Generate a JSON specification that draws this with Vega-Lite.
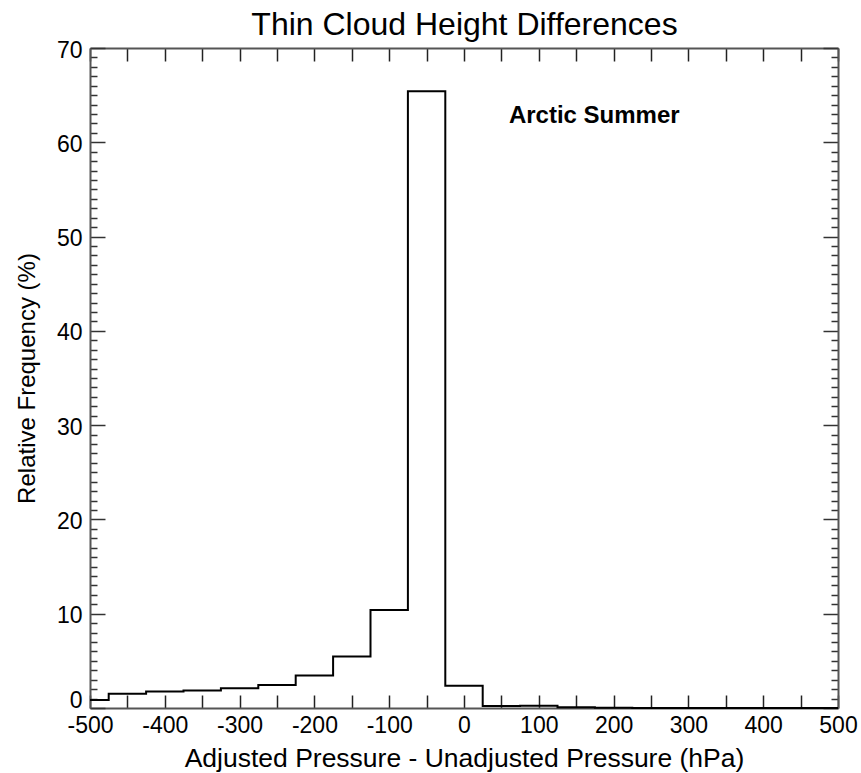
{
  "$schema": "https://vega.github.io/schema/vega-lite/v6.json",
  "width": 748,
  "height": 660,
  "autosize": "none",
  "padding": {"left": 90, "top": 48, "right": 23, "bottom": 65},
  "background": "white",
  "config": {"view": {"stroke": null}, "font": "Liberation Sans"},
  "datasets": {
    "hist": [
      {"x": -500, "y": 0.85},
      {"x": -450, "y": 1.5},
      {"x": -400, "y": 1.75},
      {"x": -350, "y": 1.85},
      {"x": -300, "y": 2.1},
      {"x": -250, "y": 2.45},
      {"x": -200, "y": 3.45},
      {"x": -150, "y": 5.45},
      {"x": -100, "y": 10.4},
      {"x": -50, "y": 65.4},
      {"x": 0, "y": 2.35},
      {"x": 50, "y": 0.2},
      {"x": 100, "y": 0.25},
      {"x": 150, "y": 0.08},
      {"x": 200, "y": 0.03},
      {"x": 250, "y": 0},
      {"x": 300, "y": 0},
      {"x": 350, "y": 0},
      {"x": 400, "y": 0},
      {"x": 450, "y": 0},
      {"x": 500, "y": 0}
    ],
    "note": [{"x": 60, "y": 62, "text": "Arctic Summer"}]
  },
  "layer": [
    {
      "data": {"name": "hist"},
      "mark": {"type": "line", "interpolate": "step", "color": "black", "strokeWidth": 2},
      "encoding": {
        "x": {
          "field": "x",
          "type": "quantitative",
          "scale": {"domain": [-500, 500], "nice": false, "zero": false},
          "axis": {
            "orient": "bottom",
            "values": [-500, -450, -400, -350, -300, -250, -200, -150, -100, -50, 0, 50, 100, 150, 200, 250, 300, 350, 400, 450, 500],
            "labelExpr": "datum.value % 100 === 0 ? '' + datum.value : ''",
            "tickSize": -13,
            "tickColor": "#222",
            "tickWidth": 1.5,
            "labelPadding": 19,
            "labelFontSize": 23,
            "labelFont": "Liberation Sans",
            "labelColor": "black",
            "labelFlush": false,
            "labelOverlap": false,
            "grid": false,
            "domainColor": "#555",
            "domainWidth": 2,
            "title": "Adjusted Pressure - Unadjusted Pressure (hPa)",
            "titleFont": "Liberation Sans",
            "titleFontSize": 26.5,
            "titleFontWeight": "normal",
            "titleColor": "black",
            "titlePadding": 8
          }
        },
        "y": {
          "field": "y",
          "type": "quantitative",
          "scale": {"domain": [0, 70], "nice": false, "zero": true},
          "axis": {
            "orient": "left",
            "values": [0,1,2,3,4,5,6,7,8,9,10,11,12,13,14,15,16,17,18,19,20,21,22,23,24,25,26,27,28,29,30,31,32,33,34,35,36,37,38,39,40,41,42,43,44,45,46,47,48,49,50,51,52,53,54,55,56,57,58,59,60,61,62,63,64,65,66,67,68,69,70],
            "labelExpr": "datum.value % 10 === 0 ? '' + datum.value : ''",
            "tickSize": {"condition": {"test": "datum.value % 10 === 0", "value": -15}, "value": -7},
            "tickColor": "#333",
            "tickWidth": 1.5,
            "labelPadding": 23,
            "labelOffset": {"condition": {"test": "datum.value === 0", "value": -8}, "value": 2},
            "labelFontSize": 23,
            "labelFont": "Liberation Sans",
            "labelColor": "black",
            "labelFlush": false,
            "labelOverlap": false,
            "grid": false,
            "domainColor": "#555",
            "domainWidth": 2,
            "title": "Relative Frequency (%)",
            "titleFont": "Liberation Sans",
            "titleFontSize": 24,
            "titleFontWeight": "normal",
            "titleColor": "black",
            "titlePadding": 17
          }
        }
      }
    },
    {
      "data": {"name": "note"},
      "mark": {"type": "text", "align": "left", "baseline": "alphabetic", "fontSize": 24, "font": "Liberation Sans", "fontWeight": "bold", "color": "black"},
      "encoding": {
        "x": {
          "field": "x",
          "type": "quantitative",
          "scale": {"domain": [-500, 500], "nice": false, "zero": false},
          "axis": {
            "orient": "top",
            "values": [-500, -450, -400, -350, -300, -250, -200, -150, -100, -50, 0, 50, 100, 150, 200, 250, 300, 350, 400, 450, 500],
            "labels": false,
            "tickSize": -13,
            "tickColor": "#222",
            "tickWidth": 1.5,
            "grid": false,
            "domainColor": "#555",
            "domainWidth": 2,
            "title": "Thin Cloud Height Differences",
            "titleFont": "Liberation Sans",
            "titleFontSize": 32,
            "titleFontWeight": "normal",
            "titleColor": "black",
            "titlePadding": 6
          }
        },
        "y": {
          "field": "y",
          "type": "quantitative",
          "scale": {"domain": [0, 70], "nice": false, "zero": true},
          "axis": {
            "orient": "right",
            "values": [0,1,2,3,4,5,6,7,8,9,10,11,12,13,14,15,16,17,18,19,20,21,22,23,24,25,26,27,28,29,30,31,32,33,34,35,36,37,38,39,40,41,42,43,44,45,46,47,48,49,50,51,52,53,54,55,56,57,58,59,60,61,62,63,64,65,66,67,68,69,70],
            "labels": false,
            "tickSize": {"condition": {"test": "datum.value % 10 === 0", "value": -15}, "value": -7},
            "tickColor": "#333",
            "tickWidth": 1.5,
            "grid": false,
            "domainColor": "#555",
            "domainWidth": 2,
            "title": null
          }
        },
        "text": {"field": "text"}
      }
    }
  ],
  "resolve": {"axis": {"x": "independent", "y": "independent"}}
}
